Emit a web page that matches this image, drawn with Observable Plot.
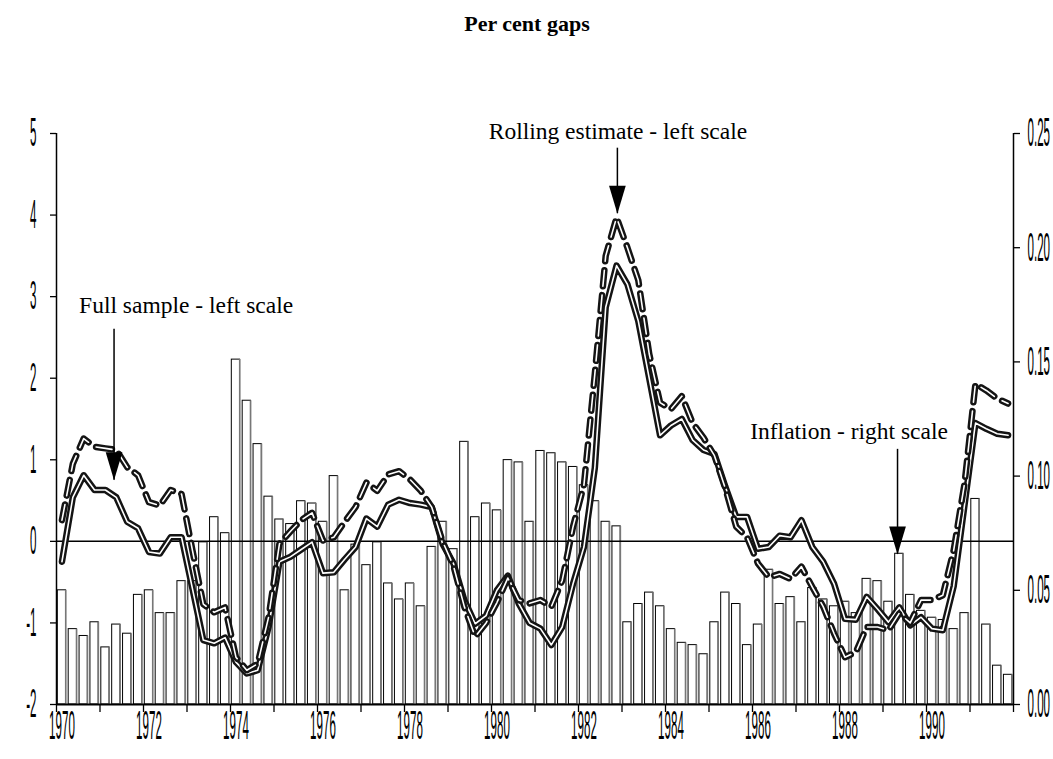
<!DOCTYPE html>
<html>
<head>
<meta charset="utf-8">
<script src="https://cdn.jsdelivr.net/npm/d3@7"></script>
<script src="https://cdn.jsdelivr.net/npm/@observablehq/plot@0.6"></script>
<style>
  body { margin: 0; background: #fff; }
  #title {
    width: 1053px; height: 48px; box-sizing: border-box;
    font-family: "Liberation Serif", "Times New Roman", serif;
    font-weight: bold; font-size: 22px; line-height: 48px;
    text-align: center; padding-left: 1px; color: #000;
  }
</style>
</head>
<body>
<div id="title">Per cent gaps</div>
<div id="chart"></div>
<script>
// Quarterly inflation (right scale)
const inflation = [
  0.050,0.033,0.030,0.036,0.025,0.035,0.031,0.048,
  0.050,0.040,0.040,0.054,0.054,0.071,0.082,0.075,
  0.151,0.133,0.114,0.091,0.081,0.079,0.089,0.088,
  0.080,0.100,0.050,0.070,0.061,0.071,0.053,0.046,
  0.053,0.043,0.069,0.080,0.068,0.115,0.082,0.088,
  0.085,0.107,0.106,0.080,0.111,0.110,0.106,0.104,
  0.096,0.089,0.080,0.078,0.036,0.044,0.049,0.043,
  0.033,0.027,0.026,0.022,0.036,0.049,0.044,0.026,
  0.035,0.059,0.044,0.047,0.036,0.051,0.046,0.043,
  0.045,0.040,0.055,0.054,0.045,0.066,0.048,0.041,
  0.038,0.037,0.033,0.040,0.090,0.035,0.017,0.013
];
// Full sample gap (left scale)
const fullSample = [
  -0.25,0.54,0.81,0.63,0.63,0.54,0.24,0.16,
  -0.13,-0.15,0.05,0.05,-0.58,-1.21,-1.25,-1.18,
  -1.48,-1.62,-1.58,-1.05,-0.25,-0.19,-0.10,-0.01,
  -0.39,-0.38,-0.22,-0.07,0.28,0.18,0.45,0.51,
  0.47,0.45,0.42,-0.03,-0.27,-0.72,-1.01,-0.91,
  -0.60,-0.42,-0.76,-1.00,-1.07,-1.27,-1.05,-0.52,
  -0.07,0.90,2.87,3.38,3.15,2.70,2.00,1.30,
  1.42,1.50,1.24,1.12,1.07,0.67,0.30,0.30,
  -0.09,-0.07,0.07,0.05,0.26,-0.07,-0.25,-0.52,
  -0.95,-0.96,-0.68,-0.83,-0.99,-0.81,-1.03,-0.93,
  -1.07,-1.09,-0.55,0.45,1.45,1.38,1.32,1.30
];
// Rolling estimate gap (left scale)
const rolling = [
  0.26,0.95,1.26,1.16,1.14,1.12,0.91,0.81,
  0.48,0.44,0.63,0.58,-0.11,-0.77,-0.87,-0.81,
  -1.42,-1.58,-1.50,-0.93,-0.03,0.12,0.26,0.35,
  0.01,0.05,0.24,0.42,0.72,0.62,0.82,0.86,
  0.76,0.62,0.42,0.00,-0.30,-0.80,-1.17,-1.00,
  -0.75,-0.45,-0.72,-0.76,-0.72,-0.80,-0.48,0.18,
  0.69,2.05,3.50,3.97,3.60,3.20,2.30,1.70,
  1.62,1.78,1.45,1.27,1.05,0.65,0.18,0.05,
  -0.27,-0.44,-0.40,-0.46,-0.31,-0.56,-0.80,-1.13,
  -1.42,-1.36,-1.05,-1.05,-1.09,-0.88,-1.00,-0.72,
  -0.72,-0.66,-0.11,0.71,1.93,1.85,1.75,1.69
];
// Categories: quarter start times
const quarters = d3.range(inflation.length).map(i => 1970 + i / 4);
const yearTicks = d3.range(1970, 1993);
const yearLabels = d3.range(1970, 1991, 2);
const leftTicks = [-2, -1, 0, 1, 2, 3, 4, 5];
const rightTicks = [0, 0.05, 0.10, 0.15, 0.20, 0.25];
const annotations = [
  {label: "Rolling estimate - left scale", tx: 1982.906, ty: 5.03, ax: 1982.894, top: 4.82, tip: 4.017},
  {label: "Full sample - left scale", tx: 1972.98, ty: 2.887, ax: 1971.323, top: 2.60, tip: 0.748},
  {label: "Inflation - right scale", tx: 1988.22, ty: 1.342, ax: 1989.334, top: 1.128, tip: -0.16}
];

const xDomain = [1970, 1992];
const yDomain = [-2, 5];
const rightDomain = [0, 0.25];
const toLeft = v => yDomain[0] + (v - rightDomain[0]) * (yDomain[1] - yDomain[0]) / (rightDomain[1] - rightDomain[0]);
const fromLeft = y => rightDomain[0] + (y - yDomain[0]) * (rightDomain[1] - rightDomain[0]) / (yDomain[1] - yDomain[0]);

const rows = quarters.map((t, i) => ({t, infl: inflation[i], full: fullSample[i], roll: rolling[i]}));

const arrowHead = {
  draw(context, size) {
    const r = Math.sqrt(size / Math.PI);
    context.moveTo(-r, -3.35 * r);
    context.lineTo(r, -3.35 * r);
    context.lineTo(0, 0);
    context.closePath();
  }
};

const serif = '"Liberation Serif", "Times New Roman", serif';
const sans = '"Liberation Sans", Arial, sans-serif';
const lineColor = "#141414";
const tickFont = 40;
const squeeze = 0.29;

const plot = Plot.plot({
  width: 1053,
  height: 711,
  marginLeft: 56,
  marginRight: 40,
  marginTop: 85,
  marginBottom: 55,
  x: {type: "linear", domain: xDomain},
  y: {domain: yDomain},
  style: {background: "white", overflow: "visible", color: "black"},
  marks: [
    // inflation bars
    Plot.rectY(rows, {x1: d => d.t + 0.03, x2: d => d.t + 0.22, y1: yDomain[0], y2: d => toLeft(d.infl),
      fill: "white", stroke: "black", strokeWidth: 1}),
    Plot.ruleX(rows, {x: d => d.t + 0.212, y1: yDomain[0], y2: d => toLeft(d.infl), stroke: "#777", strokeWidth: 1.6}),
    // zero line
    Plot.ruleY([0], {x1: xDomain[0], x2: xDomain[1], stroke: "black", strokeWidth: 1.5}),
    // full sample: compound solid line
    Plot.line(rows, {x: d => d.t + 0.125, y: "full", stroke: lineColor, strokeWidth: 6.5, strokeLinejoin: "round"}),
    Plot.line(rows, {x: d => d.t + 0.125, y: "full", stroke: "white", strokeWidth: 1.6, strokeLinejoin: "round"}),
    // rolling estimate: compound dashed line
    Plot.line(rows, {x: d => d.t + 0.125, y: "roll", stroke: lineColor, strokeWidth: 6.5, strokeDasharray: "16,9", strokeLinejoin: "round"}),
    Plot.line(rows, {x: d => d.t + 0.125, y: "roll", stroke: "white", strokeWidth: 1.6, strokeDasharray: "16,9", strokeLinejoin: "round"}),
    // axis lines
    Plot.ruleX([xDomain[0], xDomain[1]], {y1: yDomain[0], y2: yDomain[1], stroke: "black", strokeWidth: 1.5}),
    Plot.ruleY([yDomain[0]], {x1: xDomain[0], x2: xDomain[1], stroke: "black", strokeWidth: 2}),
    // x axis: year ticks + centred labels
    Plot.axisX(yearTicks, {anchor: "bottom", tickSize: 8, tickFormat: () => "", label: null, strokeWidth: 1.3}),
    Plot.axisX(yearLabels, {anchor: "bottom", tickSize: 0, tickPadding: 6, dx: 5.44, tickFormat: d => String(d), label: null,
      fontSize: tickFont, fontFamily: sans}),
    // left axis
    Plot.axisY(leftTicks, {anchor: "left", tickSize: 6, tickPadding: 14, tickFormat: d => String(d), label: null, strokeWidth: 1.3,
      fontSize: tickFont, fontFamily: sans}),
    // right axis
    Plot.axisY(rightTicks.map(toLeft), {anchor: "right", tickSize: 6, tickPadding: 8,
      tickFormat: d => fromLeft(d).toFixed(2), label: null, strokeWidth: 1.3,
      fontSize: tickFont, fontFamily: sans}),
    // annotations
    Plot.ruleX(annotations, {x: "ax", y1: "top", y2: "tip", stroke: "black", strokeWidth: 1.5}),
    Plot.dot(annotations, {x: "ax", y: "tip", symbol: arrowHead, r: 8.35, fill: "black", stroke: "none"}),
    Plot.text(annotations, {x: "tx", y: "ty", text: "label", fontFamily: serif, fontSize: 23.5,
      textAnchor: "middle", lineAnchor: "middle", fill: "black"})
  ]
});

document.getElementById("chart").appendChild(plot);

// condensed sans tick labels: squeeze each label horizontally about its anchor
const ns = "http://www.w3.org/2000/svg";
plot.querySelectorAll('g[aria-label="x-axis tick label"] text, g[aria-label="y-axis tick label"] text').forEach(t => {
  t.style.fontSize = tickFont + "px";
  t.style.fontFamily = sans;
  if (!t.textContent) return;
  const anchor = getComputedStyle(t).textAnchor;
  const r = t.getBoundingClientRect();
  const sx = anchor === "middle" ? r.left + r.width / 2 : anchor === "end" ? r.right : r.left;
  const m = t.parentNode.getScreenCTM().inverse();
  const ax = sx * m.a + (r.top + r.height / 2) * m.c + m.e;
  const g = document.createElementNS(ns, "g");
  g.setAttribute("transform", `translate(${ax.toFixed(2)},0) scale(${squeeze},1) translate(${(-ax).toFixed(2)},0)`);
  t.parentNode.insertBefore(g, t);
  g.appendChild(t);
});
</script>
</body>
</html>
